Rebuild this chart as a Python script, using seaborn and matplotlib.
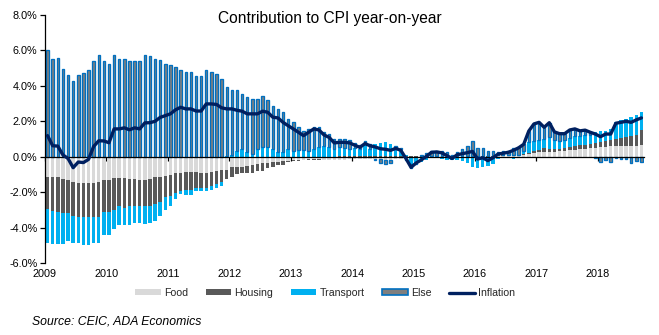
import numpy as np
import matplotlib
matplotlib.use("Agg")
import matplotlib.pyplot as plt
import seaborn as sns
from matplotlib.patches import Patch
from matplotlib.lines import Line2D

sns.set_theme(style="white")
plt.rcParams["font.family"] = ["Liberation Sans", "DejaVu Sans"]

# ---------------- data (monthly, Jan 2009 - Sep 2018) ----------------
years = ["2009", "2010", "2011", "2012", "2013", "2014", "2015", "2016", "2017", "2018"]

food = [
    -1.13, -1.17, -1.17, -1.23, -1.32, -1.42, -1.47, -1.47, -1.47, -1.47, -1.42, -1.30,
    -1.30, -1.21, -1.21, -1.21, -1.23, -1.23, -1.30, -1.30, -1.23, -1.17, -1.13, -1.08,
    -1.02, -0.94, -0.91, -0.85, -0.85, -0.89, -0.94, -0.92, -0.85, -0.79, -0.75, -0.74,
    -0.60, -0.57, -0.57, -0.51, -0.45, -0.42, -0.38, -0.36, -0.32, -0.28, -0.24, -0.22,
    -0.20, -0.18, -0.16, -0.15, -0.14, -0.14, -0.16, -0.18, -0.20, -0.20, -0.18, -0.15,
    -0.12, -0.15, -0.15, -0.12, -0.12, -0.15, -0.18, -0.18, -0.15, -0.12, -0.15, -0.10,
    -0.08, -0.05, -0.05, 0.00, 0.02, 0.02, 0.02, 0.00, 0.02, 0.02, 0.02, 0.02,
    0.00, 0.00, -0.02, 0.00, 0.02, 0.02, 0.02, 0.03, 0.05, 0.10, 0.15, 0.20,
    0.25, 0.25, 0.25, 0.28, 0.30, 0.33, 0.38, 0.40, 0.42, 0.45, 0.48, 0.50,
    0.55, 0.55, 0.58, 0.60, 0.60, 0.62, 0.62, 0.62, 0.68,
]

housing = [
    -1.83, -1.89, -1.94, -1.92, -1.83, -1.92, -1.93, -1.96, -1.93, -1.93, -1.98, -1.81,
    -1.81, -1.81, -1.60, -1.66, -1.58, -1.58, -1.51, -1.51, -1.54, -1.51, -1.45, -1.22,
    -1.19, -1.12, -1.01, -1.02, -1.02, -0.90, -0.85, -0.82, -0.83, -0.76, -0.70, -0.52,
    -0.53, -0.41, -0.37, -0.43, -0.46, -0.41, -0.41, -0.30, -0.24, -0.20, -0.22, -0.08,
    -0.06, -0.05, -0.05, -0.04, -0.03, -0.02, -0.01, 0.00, 0.00, 0.02, 0.04, 0.05,
    0.05, 0.04, 0.05, 0.05, 0.04, 0.04, 0.04, 0.03, 0.03, 0.02, 0.02, 0.06,
    0.04, 0.03, 0.03, 0.03, 0.03, 0.03, 0.03, 0.02, 0.02, 0.02, 0.03, 0.03,
    0.03, 0.03, 0.03, 0.03, 0.05, 0.05, 0.06, 0.06, 0.07, 0.05, 0.08, 0.12,
    0.15, 0.25, 0.18, 0.15, 0.15, 0.18, 0.18, 0.20, 0.24, 0.22, 0.22, 0.26,
    0.30, 0.34, 0.38, 0.42, 0.45, 0.50, 0.55, 0.62, 0.80,
]

transport = [
    -1.89, -1.88, -1.80, -1.76, -1.60, -1.51, -1.45, -1.57, -1.60, -1.45, -1.45, -1.32,
    -1.32, -1.07, -1.06, -1.00, -1.06, -0.96, -0.96, -1.00, -1.00, -0.94, -0.76, -0.70,
    -0.56, -0.30, -0.19, -0.28, -0.28, -0.17, -0.17, -0.22, -0.19, -0.19, -0.19, 0.02,
    0.12, 0.34, 0.43, 0.28, 0.15, 0.43, 0.53, 0.53, 0.43, 0.25, 0.25, 0.43,
    0.34, 0.38, 0.38, 0.34, 0.43, 0.53, 0.62, 0.53, 0.45, 0.55, 0.48, 0.40,
    0.45, 0.40, 0.72, 0.38, 0.70, 0.72, 0.78, 0.68, 0.40, 0.42, 0.05, -0.30,
    -0.28, -0.25, -0.12, -0.05, -0.04, -0.12, -0.18, -0.20, -0.18, -0.25, -0.35, -0.60,
    -0.62, -0.58, -0.50, -0.40, -0.12, -0.10, -0.08, -0.15, -0.05, 0.19, 0.60, 0.57,
    0.55, 0.50, 0.70, 0.50, 0.45, 0.45, 0.50, 0.55, 0.50, 0.55, 0.55, 0.62,
    0.60, 0.55, 0.60, 0.95, 1.00, 1.00, 1.10, 1.10, 1.02,
]

other = [
    6.04, 5.53, 5.58, 4.96, 4.64, 4.30, 4.64, 4.70, 4.87, 5.38, 5.72, 5.38,
    5.26, 5.72, 5.49, 5.53, 5.38, 5.42, 5.38, 5.72, 5.66, 5.53, 5.47, 5.25,
    5.15, 5.09, 4.91, 4.81, 4.81, 4.58, 4.58, 4.91, 4.81, 4.68, 4.40, 3.94,
    3.67, 3.40, 3.12, 3.08, 3.13, 2.83, 2.92, 2.65, 2.45, 2.45, 2.25, 1.70,
    1.60, 1.28, 1.05, 1.22, 1.25, 1.15, 0.80, 0.77, 0.53, 0.45, 0.47, 0.50,
    0.27, 0.24, 0.12, 0.31, -0.08, -0.18, -0.22, -0.17, 0.19, 0.04, -0.02, -0.26,
    -0.03, 0.09, 0.16, 0.27, 0.26, 0.29, 0.19, 0.08, 0.25, 0.38, 0.53, 0.85,
    0.46, 0.49, 0.27, 0.31, 0.20, 0.23, 0.25, 0.42, 0.43, 0.36, 0.62, 0.96,
    0.99, 0.66, 0.79, 0.47, 0.40, 0.34, 0.45, 0.42, 0.30, 0.28, 0.13, -0.10,
    -0.32, -0.16, -0.28, -0.08, -0.11, -0.12, -0.33, -0.26, -0.31,
]

inflation = [
    1.19, 0.62, 0.60, 0.10, -0.10, -0.62, -0.30, -0.33, -0.15, 0.58, 0.90, 0.89,
    0.79, 1.57, 1.57, 1.63, 1.52, 1.63, 1.57, 1.91, 1.92, 2.00, 2.22, 2.32,
    2.42, 2.65, 2.79, 2.70, 2.70, 2.58, 2.58, 2.98, 2.98, 2.95, 2.76, 2.70,
    2.70, 2.62, 2.57, 2.42, 2.42, 2.42, 2.57, 2.51, 2.23, 2.19, 1.94, 1.75,
    1.57, 1.38, 1.19, 1.38, 1.57, 1.51, 1.23, 1.09, 0.78, 0.81, 0.81, 0.78,
    0.65, 0.53, 0.74, 0.62, 0.55, 0.45, 0.42, 0.36, 0.47, 0.36, -0.10, -0.60,
    -0.35, -0.18, 0.02, 0.25, 0.27, 0.22, 0.06, -0.10, 0.11, 0.17, 0.23, 0.30,
    -0.13, -0.06, -0.22, -0.06, 0.15, 0.20, 0.25, 0.36, 0.50, 0.70, 1.45, 1.85,
    1.94, 1.66, 1.92, 1.40, 1.30, 1.30, 1.51, 1.57, 1.46, 1.50, 1.38, 1.28,
    1.13, 1.28, 1.28, 1.89, 1.94, 2.00, 1.94, 2.08, 2.19,
]

# ---------------- styling ----------------
C_FOOD = "#d9d9d9"
C_HOUS = "#595959"
C_TRAN = "#00b0f0"
C_ELSE_FILL = "#7f7f7f"
C_ELSE_EDGE = "#0070c0"
C_INFL = "#002060"

series = [
    ("Food", food, dict(color=C_FOOD, linewidth=0, width=0.68)),
    ("Housing", housing, dict(color=C_HOUS, linewidth=0, width=0.68)),
    ("Transport", transport, dict(color=C_TRAN, linewidth=0, width=0.68)),
    ("Else", other, dict(color=C_ELSE_FILL, edgecolor=C_ELSE_EDGE, linewidth=0.95, width=0.48)),
]

W, H = 659, 335
fig = plt.figure(figsize=(W / 100, H / 100), dpi=100)
ax = fig.add_axes([45 / W, 1 - 263 / H, 599 / W, 248 / H])

n = len(inflation)
idx = np.arange(n)
pos_base = np.zeros(n)
neg_base = np.zeros(n)
for name, vals, kw in series:
    v = np.asarray(vals, dtype=float)
    bottom = np.where(v >= 0, pos_base, neg_base)
    sns.barplot(x=idx, y=v, bottom=bottom, errorbar=None, saturation=1,
                ax=ax, zorder=2, **kw)
    pos_base = pos_base + np.clip(v, 0, None)
    neg_base = neg_base + np.clip(v, None, 0)

sns.lineplot(x=idx, y=inflation, color=C_INFL, linewidth=2.4, ax=ax, zorder=4)

# axes
ax.set_xlim(-0.5, n - 0.5)
ax.set_ylim(-6, 8)
yt = np.arange(-6, 9, 2)
ax.set_yticks(yt)
ax.set_yticklabels([f"{v:.1f}%" for v in yt])
xt = [-0.5 + 12 * k for k in range(len(years))]
ax.set_xticks(xt)
ax.set_xticklabels(years)
ax.set_xlabel("")
ax.set_ylabel("")

for s in ["top", "right"]:
    ax.spines[s].set_visible(False)
ax.spines["left"].set_color("black")
ax.spines["left"].set_linewidth(0.9)
ax.spines["bottom"].set_color("black")
ax.spines["bottom"].set_linewidth(0.9)
ax.spines["bottom"].set_position(("data", 0))
ax.spines["bottom"].set_zorder(3)

ax.tick_params(axis="y", left=True, length=3.5, width=0.9, direction="out",
               labelsize=7.8, pad=2, colors="black")
ax.tick_params(axis="x", bottom=True, length=3, width=0.9, direction="out",
               labelsize=7.8, pad=78, colors="black")
ax.grid(False)

fig.text(0.5, 1 - 19 / H, "Contribution to CPI year-on-year", ha="center",
         va="center", fontsize=11.2, color="black")

handles = [
    Patch(facecolor=C_FOOD, edgecolor="none"),
    Patch(facecolor=C_HOUS, edgecolor="none"),
    Patch(facecolor=C_TRAN, edgecolor="none"),
    Patch(facecolor=C_ELSE_FILL, edgecolor=C_ELSE_EDGE, linewidth=1.2),
    Line2D([0], [0], color=C_INFL, linewidth=2.4),
]
labels = ["Food", "Housing", "Transport", "Else", "Inflation"]
fig.legend(handles, labels, loc="center", bbox_to_anchor=(325 / W, 1 - 293 / H),
           ncol=5, frameon=False, fontsize=7.6, handlelength=2.4,
           handleheight=0.55, handletextpad=0.3, columnspacing=1.7)

fig.text(32 / W, 1 - 322 / H, "Source: CEIC, ADA Economics", ha="left",
         va="center", fontsize=8.8, style="italic", color="black")

fig.savefig("out.png", dpi=100)
